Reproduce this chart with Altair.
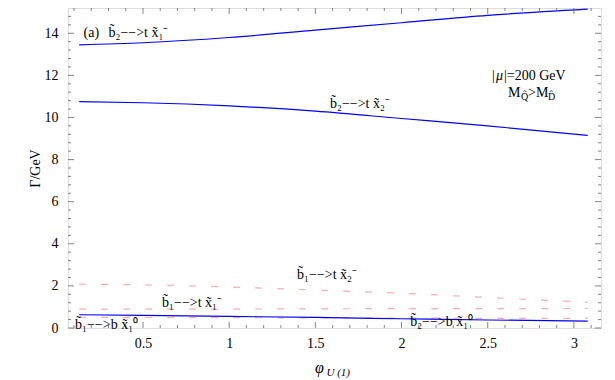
import altair as alt
import pandas as pd

# ---- data ----
phi = [0.13, 0.5, 1.0, 1.5, 2.0, 2.5, 3.08]
b2_t_x1 = [13.45, 13.55, 13.8, 14.15, 14.5, 14.85, 15.15]
b2_t_x2 = [10.75, 10.7, 10.55, 10.3, 9.95, 9.6, 9.15]
b_to_b = [0.63, 0.6, 0.55, 0.5, 0.44, 0.38, 0.33]
red_top = [2.08, 2.05, 1.95, 1.8, 1.65, 1.45, 1.22]
red_mid = [0.9, 0.9, 0.9, 0.91, 0.92, 0.92, 0.93]
red_low = [0.5, 0.5, 0.49, 0.48, 0.47, 0.46, 0.46]

x_major = [0.5, 1.0, 1.5, 2.0, 2.5, 3.0]
x_minor = [round(0.1 * i, 1) for i in range(1, 32) if i % 5 != 0]
y_major = [0, 2, 4, 6, 8, 10, 12, 14]
y_minor = [round(0.4 * i, 1) for i in range(1, 38) if i % 5 != 0]

labels_text = ["(a)",
               "b\u0303\u2082\u2212\u2212>t x\u0303\u2081\u207b",
               "b\u0303\u2082\u2212\u2212>t x\u0303\u2082\u207b",
               "b\u0303\u2081\u2212\u2212>t x\u0303\u2082\u207b",
               "b\u0303\u2081\u2212\u2212>t x\u0303\u2081\u207b",
               "b\u0303\u2081\u2212\u2212>b x\u0303\u2081\u2070",
               "b\u0303\u2082\u2212\u2212>b x\u0303\u2081\u2070"]
labels_x = [0.155, 0.30, 1.585, 1.394, 0.611, 0.106, 2.05]
labels_y = [14.0, 14.0, 10.64, 2.5, 1.18, 0.14, 0.28]

W, H = 533, 320
XDOM = [0.065, 3.157]
YDOM = [0, 15.2]
FONT = "Liberation Serif"
FRAME = "#666666"

rows = []
for name, ys, kind in [("u", b2_t_x1, "blue"), ("m", b2_t_x2, "blue"), ("l", b_to_b, "blue"),
                       ("rt", red_top, "red"), ("rm", red_mid, "red"), ("rl", red_low, "red")]:
    for p, v in zip(phi, ys):
        rows.append({"phi": p, "gamma": v, "series": name, "kind": kind})
df = pd.DataFrame(rows)

xs = alt.Scale(domain=XDOM, nice=False, zero=False)
ys_ = alt.Scale(domain=YDOM, nice=False)

x_axis = alt.Axis(values=x_major, ticks=False, domain=False, grid=False,
                  labelFont=FONT, labelFontSize=14, labelColor="black",
                  labelPadding=8, title=None,
                  labelExpr="datum.value == 1 || datum.value == 2 || datum.value == 3 ? format(datum.value, 'd') : format(datum.value, '.1f')")
y_axis = alt.Axis(values=y_major, ticks=False, domain=False, grid=False,
                  labelFont=FONT, labelFontSize=14, labelColor="black",
                  labelPadding=10, title="\u0393/GeV", titleFont=FONT,
                  titleFontSize=14, titleFontWeight="normal", titleColor="black",
                  titlePadding=2)

def X(field):
    return alt.X(field, type="quantitative", scale=xs, axis=x_axis, title=None)

def Y(field):
    return alt.Y(field, type="quantitative", scale=ys_, axis=y_axis, title="\u0393/GeV")

blue = alt.Chart(df[df.kind == "blue"]).mark_line(
    color="#0000ff", strokeWidth=1.2, interpolate="monotone", clip=True
).encode(x=X("phi"), y=Y("gamma"), detail="series:N")

red = alt.Chart(df[df.kind == "red"]).mark_line(
    color="#ff9090", strokeWidth=1.2, strokeDash=[7, 15], interpolate="monotone",
    opacity=0.75, clip=True
).encode(x=X("phi"), y=Y("gamma"), detail="series:N")

def tick_layer(vals, orient, length):
    d = pd.DataFrame({"phi": vals, "gamma": vals})
    c = alt.Chart(d).mark_rule(color=FRAME, strokeWidth=0.8)
    if orient == "left":
        return c.encode(y=Y("gamma"), x=alt.value(0), x2=alt.value(length))
    if orient == "right":
        return c.encode(y=Y("gamma"), x=alt.value(W), x2=alt.value(W - length))
    if orient == "bottom":
        return c.encode(x=X("phi"), y=alt.value(H), y2=alt.value(H - length))
    return c.encode(x=X("phi"), y=alt.value(0), y2=alt.value(length))

ticks = []
for o in ["left", "right"]:
    ticks.append(tick_layer(y_major, o, 6))
    ticks.append(tick_layer(y_minor, o, 3))
for o in ["bottom", "top"]:
    ticks.append(tick_layer(x_major, o, 6))
    ticks.append(tick_layer(x_minor, o, 3))

lab = pd.DataFrame({"t": labels_text, "phi": labels_x, "gamma": labels_y})
labels = alt.Chart(lab).mark_text(
    font=FONT, fontSize=14, align="left", baseline="middle", color="black"
).encode(x=X("phi"), y=Y("gamma"), text="t:N")

# |mu| = 200 GeV and M_Q > M_D annotation
def ann(text, yv, size, dx, dy, align="left", style="normal"):
    return alt.Chart(pd.DataFrame({"phi": [2.757], "gamma": [yv]})).mark_text(
        font=FONT, fontSize=size, align=align, baseline="middle", color="black",
        dx=dx, dy=dy, fontStyle=style
    ).encode(x=X("phi"), y=Y("gamma"), text=alt.value(text))

ann_layers = [
    ann("|", 11.96, 14, -40, 0),
    ann("\u03bc", 11.96, 14, -36, 0, style="italic"),
    ann("|=200 GeV", 11.96, 14, -28, 0),
    ann("M", 11.16, 14, -24, 0),
    ann("Q\u0302", 11.16, 10, -11, 4),
    ann(">M", 11.16, 14, -4, 0),
    ann("D\u0302", 11.16, 10, 16, 4),
]

xt1 = alt.Chart(pd.DataFrame({"a": [0]})).mark_text(
    font=FONT, fontSize=16, fontStyle="italic", align="center", baseline="alphabetic", color="black"
).encode(x=alt.value(W / 2 - 15), y=alt.value(H + 45), text=alt.value("\u03c6"))
xt2 = alt.Chart(pd.DataFrame({"a": [0]})).mark_text(
    font=FONT, fontSize=11, fontStyle="italic", align="left", baseline="alphabetic", color="black"
).encode(x=alt.value(W / 2 - 8), y=alt.value(H + 48), text=alt.value("U (1)"))

chart = alt.layer(
    red, blue, *ticks, labels, *ann_layers, xt1, xt2
).properties(
    width=W, height=H,
    autosize=alt.AutoSizeParams(type="none"),
    padding={"left": 60, "top": 0, "right": 6, "bottom": 52},
).configure_view(
    stroke=FRAME, strokeWidth=1
).configure_axis(
    labelFont=FONT, titleFont=FONT, labelFontSize=14, titleFontSize=14
).configure_text(
    font=FONT
).configure(background="white")

chart.save("out.html", embed_options={"renderer": "svg", "actions": False})
